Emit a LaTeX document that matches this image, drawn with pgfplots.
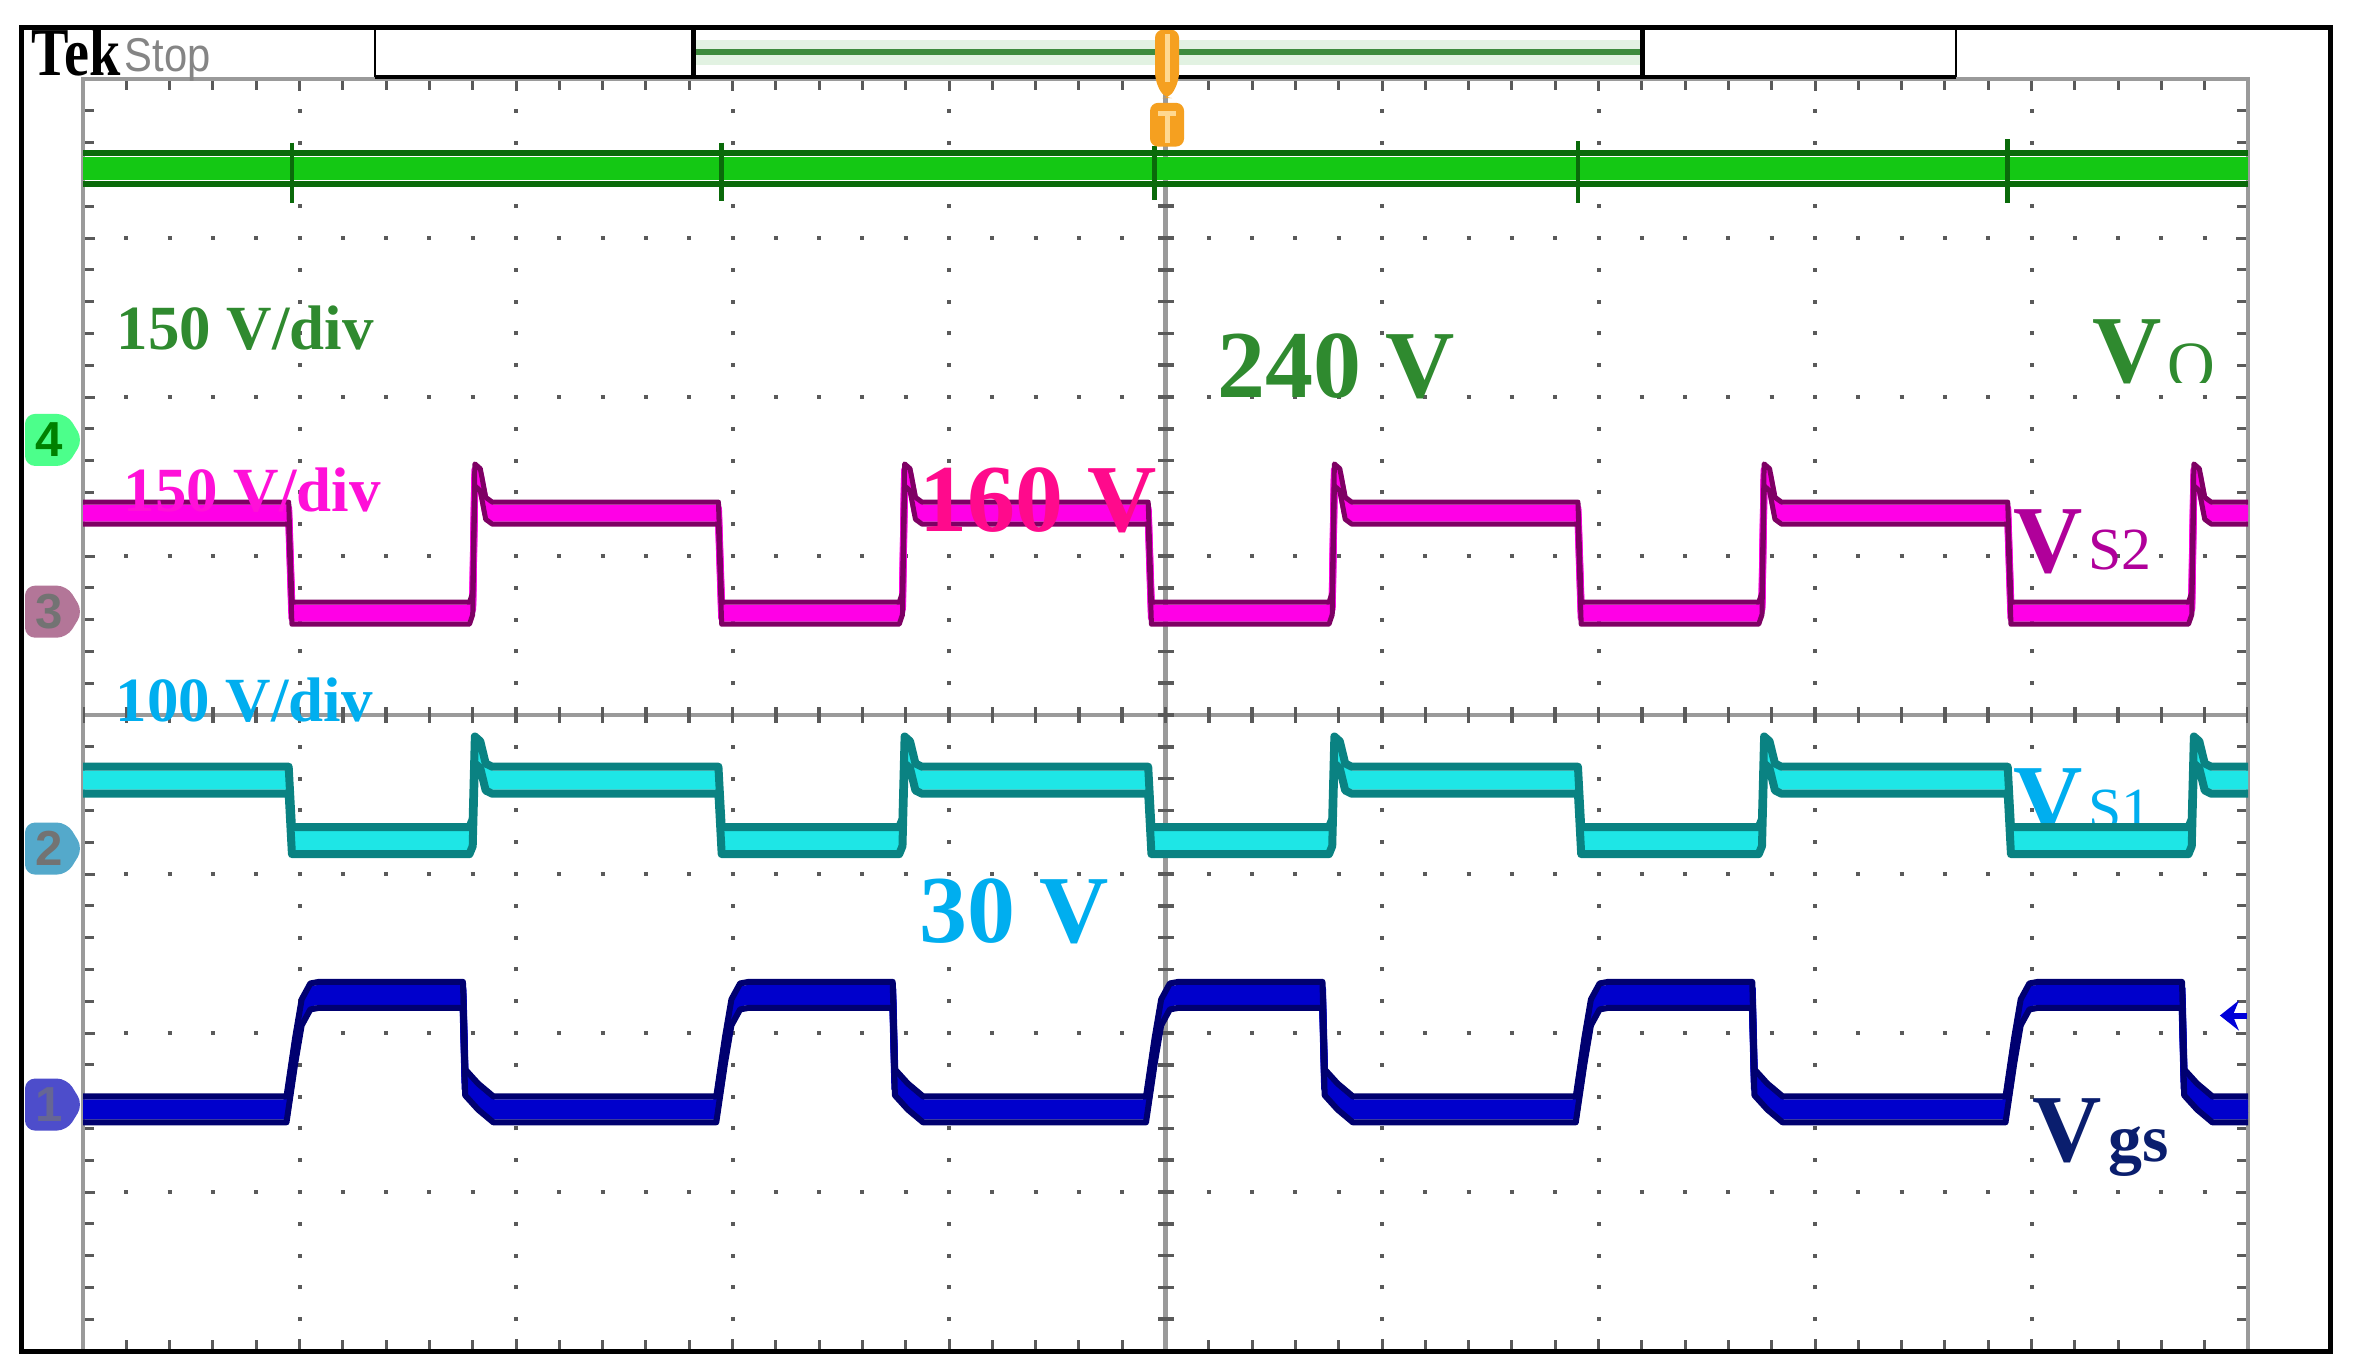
\documentclass[border=0pt]{standalone}
\usepackage{pgfplots}
\pgfplotsset{compat=1.18}
\usepackage{pgfplotstable}
\usetikzlibrary{arrows.meta}
\usepackage{fontspec}
\setmainfont{Liberation Serif}
\newfontfamily\tekfont{Liberation Sans}

\definecolor{vogreen}{HTML}{14C814}
\definecolor{vodark}{HTML}{0A6A0A}
\definecolor{magcore}{HTML}{FF00E6}
\definecolor{magdark}{HTML}{7E0064}
\definecolor{cyacore}{HTML}{1EE6E6}
\definecolor{cyadark}{HTML}{0A8282}
\definecolor{blucore}{HTML}{0000CC}
\definecolor{bludark}{HTML}{000070}
\definecolor{lblgreen}{HTML}{2F8A2F}
\definecolor{lblmag}{HTML}{FF10D8}
\definecolor{lblpink}{HTML}{FF0A8C}
\definecolor{lblmagd}{HTML}{B0009A}
\definecolor{lblcyan}{HTML}{00AEEF}
\definecolor{lblnavy}{HTML}{0A1E6E}
\definecolor{trigor}{HTML}{F5A020}
\definecolor{trigli}{HTML}{FFD890}
\definecolor{boxgreen}{HTML}{3D8B3D}
\definecolor{boxgreenl}{HTML}{E2F2E2}
\definecolor{gratgray}{HTML}{9A9A9A}
\definecolor{dotgray}{HTML}{5A5A5A}

% Vo (channel 4), divisions
\pgfplotstableread{
x y
0 7.44
10 7.44
}\votab

% VS2 (channel 3)
\pgfplotstableread{
x y
0 5.27
0.95 5.27
0.965 4.64
1.785 4.64
1.80 4.70
1.81 5.51
1.835 5.48
1.86 5.30
1.89 5.27
2.935 5.27
2.95 4.64
3.77 4.64
3.785 4.70
3.795 5.51
3.82 5.48
3.845 5.30
3.875 5.27
4.92 5.27
4.935 4.64
5.755 4.64
5.77 4.70
5.78 5.51
5.805 5.48
5.83 5.30
5.86 5.27
6.905 5.27
6.92 4.64
7.74 4.64
7.755 4.70
7.765 5.51
7.79 5.48
7.815 5.30
7.845 5.27
8.89 5.27
8.905 4.64
9.725 4.64
9.74 4.70
9.75 5.51
9.775 5.48
9.80 5.30
9.83 5.27
10 5.27
}\magtab

% VS1 (channel 2)
\pgfplotstableread{
x y
0 3.59
0.95 3.59
0.965 3.21
1.785 3.21
1.80 3.26
1.81 3.78
1.835 3.75
1.86 3.61
1.89 3.59
2.935 3.59
2.95 3.21
3.77 3.21
3.785 3.26
3.795 3.78
3.82 3.75
3.845 3.61
3.875 3.59
4.92 3.59
4.935 3.21
5.755 3.21
5.77 3.26
5.78 3.78
5.805 3.75
5.83 3.61
5.86 3.59
6.905 3.59
6.92 3.21
7.74 3.21
7.755 3.26
7.765 3.78
7.79 3.75
7.815 3.61
7.845 3.59
8.89 3.59
8.905 3.21
9.725 3.21
9.74 3.26
9.75 3.78
9.775 3.75
9.80 3.61
9.83 3.59
10 3.59
}\cyatab

% Vgs (channel 1)
\pgfplotstableread{
x y
0 1.52
0.94 1.52
0.98 1.89
1.01 2.13
1.05 2.23
1.09 2.24
1.755 2.24
1.765 1.69
1.825 1.60
1.895 1.52
2.925 1.52
2.965 1.89
2.995 2.13
3.035 2.23
3.075 2.24
3.74 2.24
3.75 1.69
3.81 1.60
3.88 1.52
4.91 1.52
4.95 1.89
4.98 2.13
5.02 2.23
5.06 2.24
5.725 2.24
5.735 1.69
5.795 1.60
5.865 1.52
6.895 1.52
6.935 1.89
6.965 2.13
7.005 2.23
7.045 2.24
7.71 2.24
7.72 1.69
7.78 1.60
7.85 1.52
8.88 1.52
8.92 1.89
8.95 2.13
8.99 2.23
9.03 2.24
9.695 2.24
9.705 1.69
9.765 1.60
9.835 1.52
10 1.52
}\blutab

\newcommand{\band}[7]{%
  \addplot[#2, line width=#4, line join=round, yshift=#5] table[x=x,y=y]{#1};
  \addplot[#2, line width=#4, line join=round] table[x=x,y=y]{#1};
  \addplot[#2, line width=#4, line join=round, yshift=-#5] table[x=x,y=y]{#1};
  \addplot[#3, line width=#6, line join=round, yshift=#7] table[x=x,y=y]{#1};
  \addplot[#3, line width=#6, line join=round, yshift=-#7] table[x=x,y=y]{#1};
}
\newcommand{\chmark}[4]{%
  \fill[#2, rounded corners=1mm] (axis cs:0,#1) -- ++(-1.6mm,2.6mm) -- ++(-4.2mm,0) -- ++(0,-5.2mm) -- ++(4.2mm,0) -- cycle;
  \node[text=#3, inner sep=0, font=\tekfont\bfseries\fontsize{14}{14}\selectfont] at ([xshift=-3.4mm]axis cs:0,#1) {#4};
}

\begin{document}
\begin{tikzpicture}
\fill[white] (-8.4mm,-1.8mm) rectangle (227.4mm,135.2mm);
\begin{axis}[
  at={(0,0)}, anchor=south west,
  width=216.5mm, height=127.2mm, scale only axis,
  xmin=0, xmax=10, ymin=0, ymax=8,
  clip=false,
  axis line style={gratgray, line width=0.45mm},
  xtick={0,1,...,10}, ytick={0,1,...,8},
  xticklabels={}, yticklabels={},
  minor x tick num=4, minor y tick num=4,
  tick align=inside,
  major tick length=1.2mm, minor tick length=1.1mm,
  tick style={dotgray, line width=0.3mm},
  grid=major,
  x grid style={dotgray, line width=0.4mm, dash pattern=on 0.4mm off 2.78mm, dash phase=0.2mm},
  y grid style={dotgray, line width=0.4mm, dash pattern=on 0.4mm off 3.93mm, dash phase=0.2mm},
]
\coordinate (bbSW) at (axis cs:-0.3834,-0.1069);
\coordinate (bbNE) at (axis cs:10.4988,8.4969);

% centre cross with ticks
\draw[gratgray, line width=0.45mm] (axis cs:5,0) -- (axis cs:5,8);
\draw[gratgray, line width=0.45mm] (axis cs:0,4) -- (axis cs:10,4);
\draw[dotgray, line width=1.6mm, dash pattern=on 0.35mm off 2.83mm, dash phase=0.175mm] (axis cs:5,0) -- (axis cs:5,8);
\draw[dotgray, line width=1.6mm, dash pattern=on 0.35mm off 3.98mm, dash phase=0.175mm] (axis cs:0,4) -- (axis cs:10,4);

% label partly hidden by the VS1 trace
\node[anchor=base west, inner sep=0, text=lblcyan, font=\fontsize{27.3}{28}\selectfont\bfseries] at (axis cs:8.915,3.27) {V};
\node[anchor=base west, inner sep=0, text=lblcyan, font=\fontsize{17}{18}\selectfont] at (axis cs:9.261,3.28) {S1};

% traces
\band{\votab}{vogreen}{vodark}{0.8mm}{0.75mm}{0.6mm}{1.55mm}
\addplot[vodark, line width=0.45mm, unbounded coords=jump] coordinates {
(0.965,7.60) (0.965,7.22) (0.965,nan)
(2.95,7.60) (2.95,7.23) (2.95,nan)
(4.95,7.58) (4.95,7.24) (4.95,nan)
(6.905,7.61) (6.905,7.22) (6.905,nan)
(8.89,7.62) (8.89,7.22)
};
\band{\magtab}{magcore}{magdark}{0.7mm}{0.5mm}{0.5mm}{1.1mm}
\band{\cyatab}{cyacore}{cyadark}{0.7mm}{0.6mm}{0.8mm}{1.35mm}
\band{\blutab}{blucore}{bludark}{0.7mm}{0.65mm}{0.6mm}{1.3mm}

% labels
\node[anchor=base west, inner sep=0, text=lblgreen, font=\fontsize{17.9}{20}\selectfont\bfseries] at (axis cs:0.152,6.30) {150 V/div};
\node[anchor=base west, inner sep=0, text=lblmag, font=\fontsize{17.9}{20}\selectfont\bfseries] at (axis cs:0.185,5.277) {150 V/div};
\node[anchor=base west, inner sep=0, text=lblcyan, font=\fontsize{17.9}{20}\selectfont\bfseries] at (axis cs:0.148,3.96) {100 V/div};
\node[anchor=base west, inner sep=0, text=lblgreen, font=\fontsize{27.3}{28}\selectfont\bfseries] at (axis cs:5.238,5.994) {240 V};
\node[anchor=base west, inner sep=0, text=lblpink, font=\fontsize{27.3}{28}\selectfont\bfseries] at (axis cs:3.861,5.151) {160 V};
\node[anchor=base west, inner sep=0, text=lblcyan, font=\fontsize{27.3}{28}\selectfont\bfseries] at (axis cs:3.861,2.572) {30 V};
\node[anchor=base west, inner sep=0, text=lblgreen, font=\fontsize{27.3}{28}\selectfont\bfseries] at (axis cs:9.279,6.094) {V};
\begin{scope}
\clip (axis cs:9.55,6.094) rectangle (axis cs:9.95,6.6);
\node[anchor=base west, inner sep=0, text=lblgreen, font=\fontsize{18.8}{19}\selectfont] at (axis cs:9.626,6.057) {O};
\end{scope}
\node[anchor=base west, inner sep=0, text=lblmagd, font=\fontsize{27.3}{28}\selectfont\bfseries] at (axis cs:8.915,4.899) {V};
\node[anchor=base west, inner sep=0, text=lblmagd, font=\fontsize{17}{18}\selectfont] at (axis cs:9.261,4.912) {S2};
\node[anchor=base west, inner sep=0, text=lblnavy, font=\fontsize{27.3}{28}\selectfont\bfseries] at (axis cs:9.002,1.189) {V};
\node[anchor=base west, inner sep=0, text=lblnavy, font=\fontsize{19.3}{20}\selectfont\bfseries] at (axis cs:9.353,1.189) {gs};

% trigger level arrow
\draw[-{Stealth[length=1.9mm,width=3mm]}, color=blue!85!black, line width=0.6mm] (axis cs:9.995,2.11) -- (axis cs:9.87,2.11);

% channel ground markers
\chmark{5.73}{green!65!cyan!70!white}{green!50!black}{4}
\chmark{4.65}{magenta!35!gray}{black!55}{3}
\chmark{3.16}{cyan!60!gray}{black!55}{2}
\chmark{1.55}{blue!55!gray!90!white}{blue!30!black!60}{1}

% top bar
\fill[white] (axis cs:1.349,8.013) rectangle (axis cs:8.651,8.321);
\fill[boxgreenl] (axis cs:2.822,8.09) rectangle (axis cs:7.201,8.245);
\draw[boxgreen, line width=0.6mm] (axis cs:2.822,8.17) -- (axis cs:7.201,8.17);
\draw[black, line width=0.45mm] (axis cs:1.349,8.321) -- (axis cs:8.651,8.321) (axis cs:1.349,8.013) -- (axis cs:8.651,8.013);
\draw[black, line width=0.25mm] (axis cs:1.349,8.013) -- (axis cs:1.349,8.321) (axis cs:8.651,8.013) -- (axis cs:8.651,8.321);
\draw[black, line width=0.5mm] (axis cs:2.822,8.013) -- (axis cs:2.822,8.321) (axis cs:7.201,8.013) -- (axis cs:7.201,8.321);
\node[anchor=base west, inner sep=0, font=\fontsize{19.5}{20}\selectfont\bfseries] at (axis cs:-0.24,8.02) {\scalebox{0.82}[1]{Tek}};
\node[anchor=base west, inner sep=0, text=black!48, font=\tekfont\fontsize{13.5}{14}\selectfont] at (axis cs:0.19,8.05) {\scalebox{0.88}[1]{Stop}};

% trigger position marker
\fill[trigor, rounded corners=0.8mm] ([xshift=-1.2mm]axis cs:5.007,8.31) -- ([xshift=1.2mm]axis cs:5.007,8.31) -- ([xshift=1.2mm]axis cs:5.007,7.99) -- ([xshift=0.3mm]axis cs:5.007,7.88) -- ([xshift=-0.3mm]axis cs:5.007,7.88) -- ([xshift=-1.2mm]axis cs:5.007,7.99) -- cycle;
\fill[trigli] ([xshift=-0.25mm]axis cs:5.007,8.28) rectangle ([xshift=0.25mm]axis cs:5.007,7.98);
\fill[trigor, rounded corners=0.8mm] ([xshift=-1.7mm]axis cs:5.007,7.85) rectangle ([xshift=1.7mm]axis cs:5.007,7.575);
\fill[trigli] ([xshift=-0.9mm]axis cs:5.007,7.80) rectangle ([xshift=0.9mm]axis cs:5.007,7.77);
\fill[trigli] ([xshift=-0.25mm]axis cs:5.007,7.80) rectangle ([xshift=0.25mm]axis cs:5.007,7.60);

% outer frame
\draw[black, line width=0.5mm] (axis cs:-0.282,-0.006) rectangle (axis cs:10.383,8.327);
\end{axis}
\pgfresetboundingbox
\useasboundingbox (bbSW) rectangle (bbNE);
\end{tikzpicture}
\end{document}
